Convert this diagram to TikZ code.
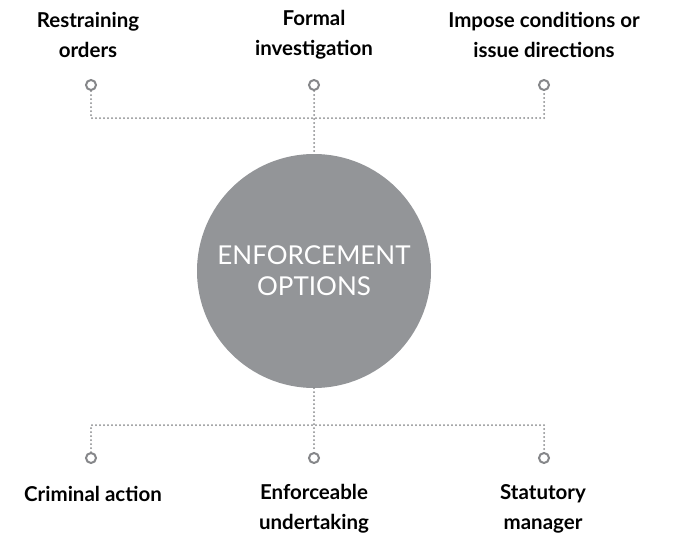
\documentclass[tikz,border=0pt]{standalone}
\usepackage{fontspec}
\setmainfont{Lato}
\begin{document}
\begin{tikzpicture}[x=1pt,y=-1pt,
  label/.style={font=\bfseries\fontsize{20.5}{30}\selectfont, align=center, text=black},
  pin/.style={circle, draw=pingray, line width=2pt, fill=white, minimum size=10pt, inner sep=0pt},
  dotline/.style={draw=pingray, line width=2pt, line cap=round, dash pattern=on 0pt off 4pt},
  hubstyle/.style={circle, fill=hubgray, minimum size=234pt, inner sep=0pt, text=white,
    font=\fontsize{26}{31}\selectfont, align=center}]
\definecolor{pingray}{HTML}{86878A}
\definecolor{hubgray}{HTML}{939598}
\useasboundingbox (0,0) rectangle (673,533);

% central circle
\node[hubstyle] (hub) at (314,271) {ENFORCEMENT\\OPTIONS};

% junction points
\node[pin] (t1) at (91,85) {};
\node[pin] (t2) at (314,85) {};
\node[pin] (t3) at (544,85) {};
\node[pin] (b1) at (91,458) {};
\node[pin] (b2) at (314,458) {};
\node[pin] (b3) at (544,458) {};

\coordinate (topbar) at (314,118);
\coordinate (botbar) at (314,425);

% connectors
\draw[dotline] (t1) -- (t1 |- topbar) -- (t3 |- topbar) -- (t3);
\draw[dotline] (t2) -- (hub);
\draw[dotline] (b1) -- (b1 |- botbar) -- (b3 |- botbar) -- (b3);
\draw[dotline] (hub) -- (b2);

% labels
\node[label] (l1) at (88,35) {Restraining\\orders};
\node[label] (l2) at (314,35) {Formal\\investigation};
\node[label] (l3) at (544,35) {Impose conditions or\\issue directions};
\node[label] (l4) at (93,494) {Criminal action};
\node[label] (l5) at (314,509) {Enforceable\\undertaking};
\node[label] (l6) at (543,509) {Statutory\\manager};
\end{tikzpicture}
\end{document}
